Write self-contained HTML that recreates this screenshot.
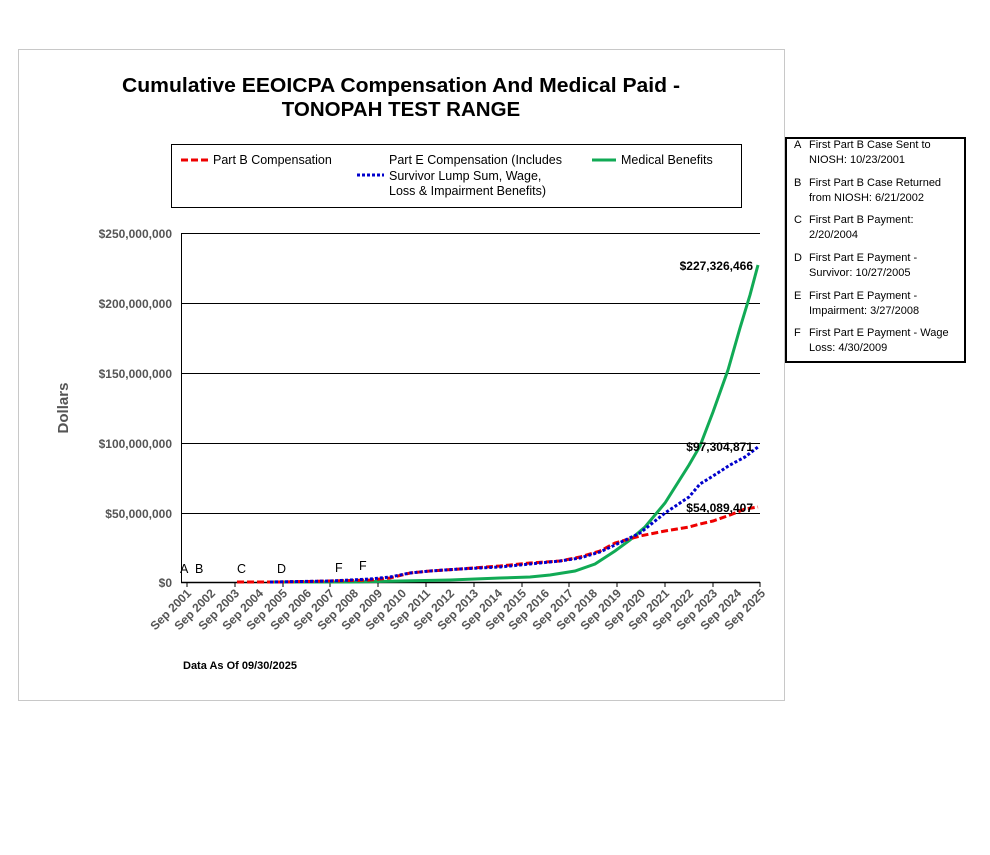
<!DOCTYPE html>
<html><head><meta charset="utf-8"><style>
body{margin:0;background:#fff;}
svg text{font-family:"Liberation Sans",Arial,sans-serif;}
</style></head><body>
<svg width="990" height="850" xmlns="http://www.w3.org/2000/svg">
<rect x="18.5" y="49.5" width="766" height="651" fill="#fff" stroke="#c8c8c8"/>
<text x="401" y="92" font-size="20.5" font-weight="bold" text-anchor="middle" textLength="558" lengthAdjust="spacingAndGlyphs">Cumulative EEOICPA Compensation And Medical Paid -</text>
<text x="401" y="116" font-size="20.5" font-weight="bold" text-anchor="middle">TONOPAH TEST RANGE</text>
<rect x="171.5" y="144.5" width="570" height="63" fill="#fff" stroke="#000"/>
<line x1="181" y1="160" x2="208" y2="160" stroke="#e00" stroke-width="3" stroke-dasharray="7,3"/>
<text x="213" y="164" font-size="12.5">Part B Compensation</text>
<text x="389" y="164" font-size="12.5">Part E Compensation (Includes</text>
<text x="389" y="180" font-size="12.5">Survivor Lump Sum, Wage,</text>
<text x="389" y="195" font-size="12.5">Loss &amp; Impairment Benefits)</text>
<line x1="357" y1="175" x2="384" y2="175" stroke="#00c" stroke-width="3" stroke-dasharray="3,2"/>
<line x1="592" y1="160" x2="616" y2="160" stroke="#1a5" stroke-width="3"/>
<text x="621" y="164" font-size="12.5">Medical Benefits</text>
<g stroke="#000" stroke-width="1">
<line x1="181" y1="233.5" x2="760" y2="233.5"/>
<line x1="181" y1="303.5" x2="760" y2="303.5"/>
<line x1="181" y1="373.5" x2="760" y2="373.5"/>
<line x1="181" y1="443.5" x2="760" y2="443.5"/>
<line x1="181" y1="513.5" x2="760" y2="513.5"/>
<line x1="181.5" y1="233" x2="181.5" y2="582"/>
<line x1="181" y1="582.5" x2="760" y2="582.5" stroke-width="1.5"/>
</g>
<g font-size="12" font-weight="bold" fill="#555" text-anchor="end">
<text x="172" y="238">$250,000,000</text>
<text x="172" y="308">$200,000,000</text>
<text x="172" y="378">$150,000,000</text>
<text x="172" y="448">$100,000,000</text>
<text x="172" y="518">$50,000,000</text>
<text x="172" y="587">$0</text>
</g>
<text x="68" y="408" font-size="15" font-weight="bold" fill="#555" text-anchor="middle" transform="rotate(-90 68 408)">Dollars</text>
<g stroke="#000">
<line x1="187" y1="582" x2="187" y2="587"/><line x1="235" y1="582" x2="235" y2="587"/><line x1="283" y1="582" x2="283" y2="587"/><line x1="330" y1="582" x2="330" y2="587"/><line x1="378" y1="582" x2="378" y2="587"/><line x1="426" y1="582" x2="426" y2="587"/><line x1="474" y1="582" x2="474" y2="587"/><line x1="522" y1="582" x2="522" y2="587"/><line x1="569" y1="582" x2="569" y2="587"/><line x1="617" y1="582" x2="617" y2="587"/><line x1="665" y1="582" x2="665" y2="587"/><line x1="713" y1="582" x2="713" y2="587"/><line x1="760" y1="582" x2="760" y2="587"/>
</g>
<g font-size="12" font-weight="bold" fill="#555" text-anchor="end">
<text transform="translate(192,594) rotate(-45)">Sep 2001</text>
<text transform="translate(216,594) rotate(-45)">Sep 2002</text>
<text transform="translate(240,594) rotate(-45)">Sep 2003</text>
<text transform="translate(264,594) rotate(-45)">Sep 2004</text>
<text transform="translate(288,594) rotate(-45)">Sep 2005</text>
<text transform="translate(312,594) rotate(-45)">Sep 2006</text>
<text transform="translate(335,594) rotate(-45)">Sep 2007</text>
<text transform="translate(359,594) rotate(-45)">Sep 2008</text>
<text transform="translate(383,594) rotate(-45)">Sep 2009</text>
<text transform="translate(407,594) rotate(-45)">Sep 2010</text>
<text transform="translate(431,594) rotate(-45)">Sep 2011</text>
<text transform="translate(455,594) rotate(-45)">Sep 2012</text>
<text transform="translate(479,594) rotate(-45)">Sep 2013</text>
<text transform="translate(503,594) rotate(-45)">Sep 2014</text>
<text transform="translate(527,594) rotate(-45)">Sep 2015</text>
<text transform="translate(550,594) rotate(-45)">Sep 2016</text>
<text transform="translate(574,594) rotate(-45)">Sep 2017</text>
<text transform="translate(598,594) rotate(-45)">Sep 2018</text>
<text transform="translate(622,594) rotate(-45)">Sep 2019</text>
<text transform="translate(646,594) rotate(-45)">Sep 2020</text>
<text transform="translate(670,594) rotate(-45)">Sep 2021</text>
<text transform="translate(694,594) rotate(-45)">Sep 2022</text>
<text transform="translate(718,594) rotate(-45)">Sep 2023</text>
<text transform="translate(742,594) rotate(-45)">Sep 2024</text>
<text transform="translate(766,594) rotate(-45)">Sep 2025</text>
</g>
<g font-size="12.5">
<text x="180" y="573">A</text><text x="195" y="573">B</text><text x="237" y="573">C</text><text x="277" y="573">D</text><text x="335" y="572">F</text><text x="359" y="570">F</text>
</g>
<polyline fill="none" stroke="#1a5" stroke-width="3" points="270,582 350,582 400,581 450,580 500,578 530,577 550,575 575,571 595,564 615,551 630,540 645,527 665,503 689,465 700,446 713,412 728,370 740,328 750,295 758,265"/>
<polyline fill="none" stroke="#e00" stroke-width="3" stroke-dasharray="7,3" points="237,582 280,582 330,581 370,580 390,578 410,573 430,571 460,569 500,566 530,563 560,561 580,557 600,551 615,543 640,536 665,531 689,527 700,524 713,521 730,515 745,509 758,507"/>
<polyline fill="none" stroke="#00c" stroke-width="3" stroke-dasharray="3,2" points="270,582 330,581 370,579 390,577 410,573 430,571 460,569 500,567 530,564 560,561 580,558 600,552 615,545 640,533 665,513 689,497 700,484 713,476 730,465 745,457 758,447"/>
<g font-size="12" font-weight="bold" text-anchor="end">
<text x="753" y="270">$227,326,466</text>
<text x="753" y="451">$97,304,871</text>
<text x="753" y="512">$54,089,407</text>
</g>
<text x="183" y="669" font-size="11" font-weight="bold">Data As Of  09/30/2025</text>
<rect x="786" y="138" width="179" height="224" fill="#fff" stroke="#000" stroke-width="2"/>
<g font-size="11">
<text x="794" y="148">A</text><text x="809" y="148">First Part B Case Sent to</text><text x="809" y="163">NIOSH: 10/23/2001</text>
<text x="794" y="186">B</text><text x="809" y="186">First Part B Case Returned</text><text x="809" y="201">from NIOSH: 6/21/2002</text>
<text x="794" y="223">C</text><text x="809" y="223">First Part B Payment:</text><text x="809" y="238">2/20/2004</text>
<text x="794" y="261">D</text><text x="809" y="261">First Part E Payment -</text><text x="809" y="276">Survivor: 10/27/2005</text>
<text x="794" y="299">E</text><text x="809" y="299">First Part E Payment -</text><text x="809" y="314">Impairment: 3/27/2008</text>
<text x="794" y="336">F</text><text x="809" y="336">First Part E Payment - Wage</text><text x="809" y="351">Loss: 4/30/2009</text>
</g>
</svg>
</body></html>
